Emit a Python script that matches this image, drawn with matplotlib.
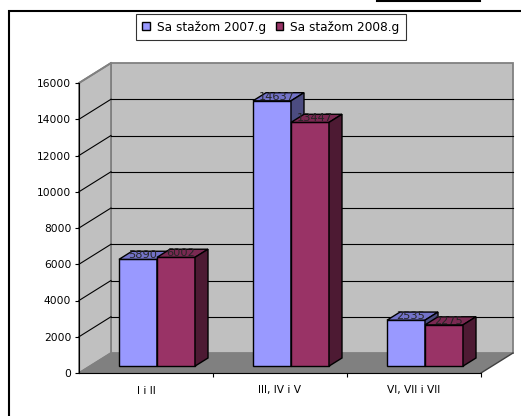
import matplotlib
matplotlib.use("Agg")
import matplotlib.pyplot as plt
from matplotlib.patches import Polygon, Patch, Rectangle
from matplotlib.lines import Line2D

plt.rcParams['font.family'] = ['DejaVu Sans']

# data
categories = ['I i II', 'III, IV i V', 'VI, VII i VII']
series_names = ['Sa stažom 2007.g', 'Sa stažom 2008.g']
values_2007 = [5890, 14637, 2535]
values_2008 = [6002, 13447, 2275]
y_ticks = [0, 2000, 4000, 6000, 8000, 10000, 12000, 14000, 16000]

# colours: front, top, side
blue = ('#9999FF', '#7373C8', '#4C4C80')
red = ('#993366', '#7A2952', '#4D1A33')
wall_grey = '#C0C0C0'
floor_grey = '#808080'
edge_grey = '#808080'

W, H = 521, 416
fig = plt.figure(figsize=(W / 100, H / 100), dpi=100)
ax = fig.add_axes([79 / W, 43 / H, 402 / W, 290 / H])
ax.set_xlim(0, 3)
ax.set_ylim(0, 16000)
ax.patch.set_visible(False)

# depth offset of the 3d box, in data units
DX = 32 / 134
DY = 20 * 16000 / 290
ymax = y_ticks[-1]
n = len(categories)


def poly(pts, fc, ec='none', lw=0, z=1):
    ax.add_patch(Polygon(pts, closed=True, facecolor=fc, edgecolor=ec,
                         linewidth=lw, zorder=z, clip_on=False,
                         joinstyle='miter'))


# walls and floor
poly([(DX, DY), (n + DX, DY), (n + DX, ymax + DY), (DX, ymax + DY)],
     wall_grey, edge_grey, 1.3, 0.5)
poly([(0, 0), (DX, DY), (DX, ymax + DY), (0, ymax)],
     wall_grey, edge_grey, 1.3, 0.6)
poly([(0, 0), (n, 0), (n + DX, DY), (DX, DY)], floor_grey, 'none', 0, 0.7)

# gridlines on the back wall and side wall
for v in y_ticks[1:-1]:
    ax.plot([DX, n + DX], [v + DY, v + DY], color='black', lw=0.8,
            zorder=0.8, clip_on=False)
    ax.plot([0, DX], [v, v + DY], color='black', lw=0.8,
            zorder=0.8, clip_on=False)
ax.plot([0, DX], [ymax, ymax + DY], color=edge_grey, lw=1.3, zorder=0.8,
        clip_on=False)
ax.plot([0, DX], [0, DY], color=edge_grey, lw=1.0, zorder=0.8, clip_on=False)
ax.plot([n, n + DX], [0, DY], color='#404040', lw=1.0, zorder=0.9,
        clip_on=False)

# bars
bw = 0.2836
d0, d1 = 0.344, 0.75


def bar3d(x0, h, cols, z):
    x1 = x0 + bw
    a0, b0 = d0 * DX, d0 * DY
    a1, b1 = d1 * DX, d1 * DY
    poly([(x0 + a0, b0), (x1 + a0, b0), (x1 + a0, h + b0), (x0 + a0, h + b0)],
         cols[0], 'black', 1.0, z)
    poly([(x0 + a0, h + b0), (x1 + a0, h + b0), (x1 + a1, h + b1),
          (x0 + a1, h + b1)], cols[1], 'black', 1.0, z)
    poly([(x1 + a0, b0), (x1 + a1, b1), (x1 + a1, h + b1), (x1 + a0, h + b0)],
         cols[2], 'black', 1.0, z)
    ax.text(x0 + bw / 2 + 0.5 * DX, h + 0.55 * DY, str(h), ha='center',
            va='center', fontsize=8.2, color='#262626', zorder=10,
            clip_on=False)


for i in range(n):
    c = i + 0.5
    bar3d(c - bw, values_2007[i], blue, 2 + i)
    bar3d(c, values_2008[i], red, 2.5 + i)

# axes
for s in ['top', 'right']:
    ax.spines[s].set_visible(False)
ax.spines['left'].set_color('black')
ax.spines['bottom'].set_color('black')
ax.spines['left'].set_zorder(1)
ax.spines['bottom'].set_zorder(1)
ax.set_yticks(y_ticks)
ax.set_yticklabels([str(v) for v in y_ticks])
ax.tick_params(axis='y', length=3, width=0.8, pad=2.5, labelsize=7.7,
               colors='black')
ax.set_xticks(range(1, n + 1))
ax.set_xticklabels([])
ax.tick_params(axis='x', which='major', length=3, width=0.8)
ax.set_xticks([i + 0.5 for i in range(n)], minor=True)
ax.set_xticklabels(categories, minor=True)
ax.tick_params(axis='x', which='minor', length=0, pad=9, labelsize=7.7)

# legend
handles = [Patch(facecolor=blue[0], edgecolor='black', lw=1.0),
           Patch(facecolor=red[0], edgecolor='black', lw=1.0)]
leg = fig.legend(handles, series_names, loc='center',
                 bbox_to_anchor=(271 / W, 1 - 27 / H), ncol=2,
                 fontsize=8.7, frameon=True, fancybox=False,
                 handlelength=0.6, handleheight=0.6, handletextpad=0.6,
                 columnspacing=0.8, borderpad=0.5, borderaxespad=0)
leg.get_frame().set_edgecolor('black')
leg.get_frame().set_linewidth(0.8)

# chart border
fig.add_artist(Rectangle((9 / W, -0.1), 1.2, (H - 11) / H + 0.1,
                         transform=fig.transFigure, fill=False,
                         edgecolor='black', lw=1.5))
fig.add_artist(Line2D([377 / W, 480 / W], [1 - 0.5 / H, 1 - 0.5 / H],
                      transform=fig.transFigure, color='black', lw=1.5))

fig.savefig('out.png', dpi=100)
